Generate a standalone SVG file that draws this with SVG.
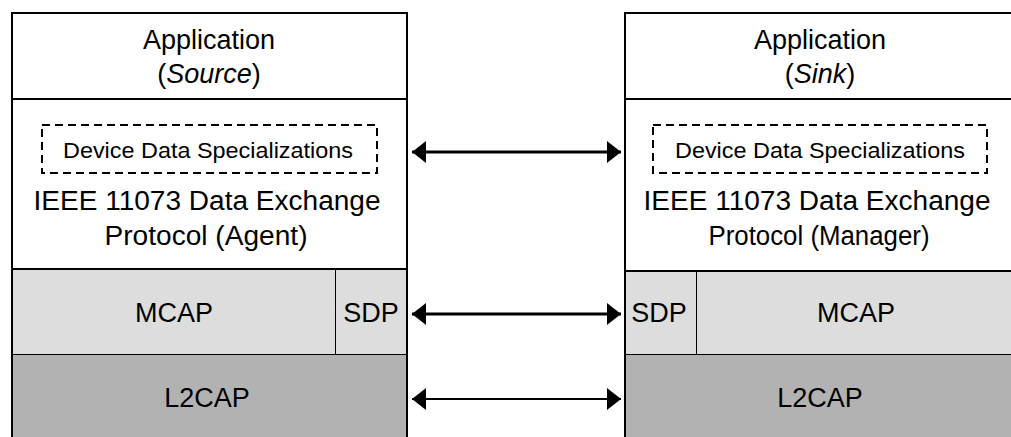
<svg xmlns="http://www.w3.org/2000/svg" width="1011" height="437" viewBox="0 0 1011 437">
<style>
text{font-family:"Liberation Sans",Arial,sans-serif;fill:#000;text-anchor:middle}
.big{font-size:27px}
.small{font-size:22px}
.white{fill:#fff}
.mcap{fill:#dddddd}
.l2cap{fill:#b2b2b2}
.border{fill:none;stroke:#000;stroke-width:2}
.thin{stroke:#000;stroke-width:1;fill:none}
.dash{fill:none;stroke:#000;stroke-width:2;stroke-dasharray:8 5}
.conn{stroke:#000;fill:none}
</style>
<defs>
<marker id="ah" viewBox="0 0 14 22" refX="14" refY="11" markerWidth="14" markerHeight="22" markerUnits="userSpaceOnUse" orient="auto-start-reverse">
<path d="M0,0 L14,11 L0,22 Z" fill="#000"/>
</marker>
</defs>

<g id="left-stack">
<g id="left-application">
<rect x="12" y="13" width="395" height="86" class="white"/>
<text class="big" x="209" y="49">Application</text>
<text class="big" x="209" y="83">(<tspan font-style="italic">Source</tspan>)</text>
</g>
<g id="left-protocol">
<rect x="12" y="99" width="395" height="170" class="white"/>
<rect x="42" y="125" width="335" height="48" class="dash"/>
<text class="small" x="208" y="158" textLength="290" lengthAdjust="spacingAndGlyphs">Device Data Specializations</text>
<text class="big" x="207" y="210" textLength="347" lengthAdjust="spacingAndGlyphs">IEEE 11073 Data Exchange</text>
<text class="big" x="206" y="245" textLength="203" lengthAdjust="spacingAndGlyphs">Protocol (Agent)</text>
</g>
<g id="left-mcap">
<rect x="12" y="269" width="323" height="85" class="mcap"/>
<text class="big" x="174" y="322">MCAP</text>
</g>
<g id="left-sdp">
<rect x="335" y="269" width="72" height="85" class="mcap"/>
<text class="big" x="371" y="322">SDP</text>
</g>
<g id="left-l2cap">
<rect x="12" y="354" width="395" height="90" class="l2cap"/>
<text class="big" x="207" y="407">L2CAP</text>
</g>
<path class="border" d="M12,440 V13 H407 V440"/>
<path class="border" d="M12,99 H407 M12,269 H407"/>
<path class="thin" d="M335.5,269 V354 M12,354.5 H407"/>
</g>

<g id="right-stack">
<g id="right-application">
<rect x="625" y="13" width="395" height="86" class="white"/>
<text class="big" x="820" y="49">Application</text>
<text class="big" x="820" y="83">(<tspan font-style="italic">Sink</tspan>)</text>
</g>
<g id="right-protocol">
<rect x="625" y="99" width="395" height="172" class="white"/>
<rect x="653" y="125" width="334" height="48" class="dash"/>
<text class="small" x="820" y="158" textLength="290" lengthAdjust="spacingAndGlyphs">Device Data Specializations</text>
<text class="big" x="817" y="210" textLength="347" lengthAdjust="spacingAndGlyphs">IEEE 11073 Data Exchange</text>
<text class="big" x="819" y="245" textLength="221" lengthAdjust="spacingAndGlyphs">Protocol (Manager)</text>
</g>
<g id="right-sdp">
<rect x="625" y="271" width="71" height="83" class="mcap"/>
<text class="big" x="659" y="322">SDP</text>
</g>
<g id="right-mcap">
<rect x="696" y="271" width="324" height="83" class="mcap"/>
<text class="big" x="856" y="322">MCAP</text>
</g>
<g id="right-l2cap">
<rect x="625" y="354" width="395" height="90" class="l2cap"/>
<text class="big" x="820" y="407">L2CAP</text>
</g>
<path class="border" d="M625,440 V13 H1020"/>
<path class="border" d="M625,99 H1020 M625,271 H1020"/>
<path class="thin" d="M696.5,271 V354 M625,354.5 H1020"/>
</g>

<g id="connectors">
<line class="conn" x1="412" y1="152" x2="621" y2="152" stroke-width="3" marker-start="url(#ah)" marker-end="url(#ah)"/>
<line class="conn" x1="412" y1="314" x2="621" y2="314" stroke-width="3" marker-start="url(#ah)" marker-end="url(#ah)"/>
<line class="conn" x1="412" y1="399" x2="621" y2="399" stroke-width="2" marker-start="url(#ah)" marker-end="url(#ah)"/>
</g>
</svg>
